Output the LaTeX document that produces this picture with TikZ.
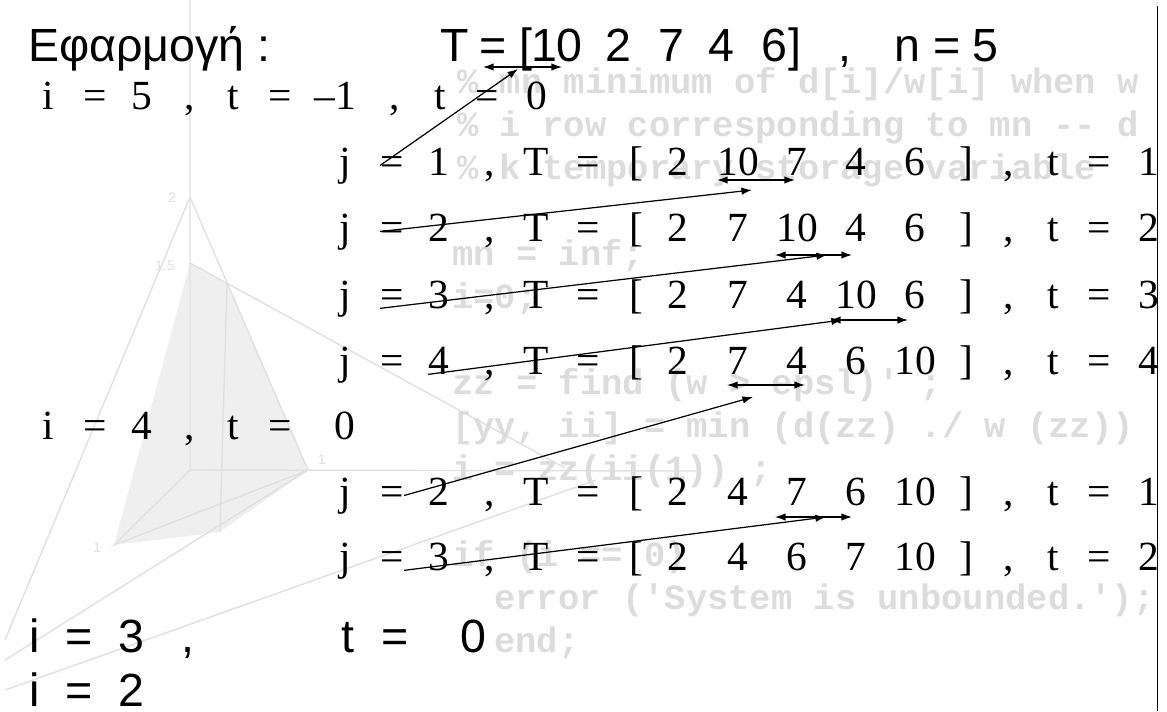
\documentclass[tikz,border=0pt]{standalone}
\usepackage{fontspec}
\setmainfont{Liberation Serif}
\setsansfont{Liberation Sans}
\setmonofont{Liberation Mono}
\usetikzlibrary{arrows.meta}
\definecolor{bgline}{HTML}{E0E0E0}
\definecolor{bgface}{HTML}{EFEFEF}
\definecolor{bgcode}{HTML}{DCDCDC}

\tikzset{
  sertxt/.style={font=\fontsize{23.6}{26}\selectfont, inner sep=0pt, anchor=base},
  santxt/.style={font=\sffamily\fontsize{26.5}{29}\selectfont, inner sep=0pt, anchor=base},
  codetxt/.style={font=\ttfamily\bfseries\fontsize{20.2}{22}\selectfont, text=bgcode, inner sep=0pt, anchor=base west},
  plotlbl/.style={font=\sffamily\fontsize{8}{9}\selectfont, text=bgline, inner sep=0pt},
  swapmark/.style={{Latex[length=6pt,width=4.2pt]}-{Latex[length=6pt,width=4.2pt]}, line width=0.7pt},
  jump/.style={-{Latex[length=6pt,width=4.2pt]}, line width=0.7pt},
}

% one line j = .. , T = [ . . . . . ] , t = ..
\newcommand{\jrow}[9]{%
  \foreach \x/\s/\k in {345/j/j,392/=/eq,439/#3/jv,490/{,}/cm,536/T/T,588/=/eqT,636/[/lb,
      678/#4/a,738/#5/b,797/#6/c,856/#7/d,915/#8/e,966/]/rb,1009/{,}/cmt,1053/t/t,1099/=/eqt,1149/#9/tv}
    \node[sertxt] (#1-\k) at (\x,#2) {\s};}

\begin{document}
\begin{tikzpicture}[x=0.02cm,y=-0.02cm]
  \useasboundingbox (0,0) rectangle (1167,711);

  % faded plot in the background
  \fill[bgface] (190,263) -- (114,545) -- (220,532) -- (227,284) -- cycle;
  \fill[bgface] (227,284) -- (308,470) -- (220,532) -- cycle;
  \begin{scope}[bgline, line width=0.8pt]
    \draw (190,0) -- (190,470) -- (700,471);
    \draw (190,197) -- (5,640);
    \draw (190,197) -- (308,470);
    \draw (190,263) -- (565,468);
    \draw (190,470) -- (114,545) -- (308,470);
    \draw (227,284) -- (220,532);
    \draw (5,690) -- (596,480);
    \draw (5,660) -- (308,470);
  \end{scope}
  \node[plotlbl] (lz2)  at (172,198) {2};
  \node[plotlbl] (lz15) at (165,266) {1.5};
  \node[plotlbl] (lx1)  at (322,460) {1};
  \node[plotlbl] (ly1)  at (97,548)  {1};

  % faded code in the background
  \begin{scope}
    \clip (0,0) rectangle (1157,711);
    \node[codetxt] (cd1)  at (457,93)  {\% mn  minimum of d[i]/w[i] when w};
    \node[codetxt] (cd2)  at (457,136) {\% i  row corresponding to mn -- d};
    \node[codetxt] (cd3)  at (457,179) {\% k temporary storage variable};
    \node[codetxt] (cd4)  at (452,265) {mn = inf;};
    \node[codetxt] (cd5)  at (452,308) {i=0;};
    \node[codetxt] (cd6)  at (452,394) {zz = find (w > epsl)' ;};
    \node[codetxt] (cd7)  at (452,437) {[yy, ii] = min (d(zz) ./ w (zz))};
    \node[codetxt] (cd8)  at (452,480) {i = zz(ii(1)) ;};
    \node[codetxt] (cd9)  at (452,566) {if (i == 0)};
    \node[codetxt] (cd10) at (494,609) {error ('System is unbounded.');};
    \node[codetxt] (cd11) at (494,652) {end;};
  \end{scope}

  % heading
  \node[santxt, anchor=base west] (title) at (28,61) {Εφαρμογή :};
  \foreach \x/\s/\k in {455/T/T,493/=/eq,526/[/lb,557/10/a,618/2/b,671/7/c,721/4/d,
      774/6/e,795/]/rb,845/{,}/cm,907/n/n,947/=/eqn,985/5/nv}
    \node[santxt] (h-\k) at (\x,61) {\s};

  % i = 5
  \foreach \x/\s/\k in {48/i/i,95/=/eq,142/5/v,190/{,}/c1,233/t/t1,280/=/eq1,335/–1/tv1,
      395/{,}/c2,440/t/t2,487/=/eq2,537/0/tv2}
    \node[sertxt] (r5-\k) at (\x,109) {\s};

  \jrow{ja}{175}{1}{2}{10}{7}{4}{6}{1}
  \jrow{jb}{241}{2}{2}{7}{10}{4}{6}{2}
  \jrow{jc}{308}{3}{2}{7}{4}{10}{6}{3}
  \jrow{jd}{374}{4}{2}{7}{4}{6}{10}{4}

  % i = 4
  \foreach \x/\s/\k in {48/i/i,95/=/eq,142/4/v,190/{,}/c1,233/t/t1,280/=/eq1,345/0/tv1}
    \node[sertxt] (r4-\k) at (\x,439) {\s};

  \jrow{je}{505}{2}{2}{4}{7}{6}{10}{1}
  \jrow{jf}{570}{3}{2}{4}{6}{7}{10}{2}

  % i = 3 and i = 2
  \foreach \x/\s/\k in {35/i/i,79/=/eq,131/3/v,188/{,}/c1,348/t/t1,395/=/eq1,473/0/tv1}
    \node[santxt] (r3-\k) at (\x,652) {\s};
  \foreach \x/\s/\k in {35/i/i,79/=/eq,131/2/v}
    \node[santxt] (r2-\k) at (\x,706) {\s};

  % swap marks and landing points
  \coordinate (s0l) at (483,67);  \coordinate (s0r) at (562,67);
  \coordinate (s1l) at (717,180); \coordinate (s1r) at (795,180);
  \coordinate (s2l) at (775,255); \coordinate (s2r) at (852,255);
  \coordinate (s3l) at (830,320); \coordinate (s3r) at (908,320);
  \coordinate (s4l) at (727,385); \coordinate (s4r) at (805,385);
  \coordinate (s5l) at (775,517); \coordinate (s5r) at (852,517);
  \coordinate (p0) at (518,69);
  \coordinate (p1) at (752,190);
  \coordinate (p2) at (827,255);
  \coordinate (p3) at (842,320);
  \coordinate (p4) at (753,397);
  \coordinate (p5) at (826,517);

  \foreach \i in {0,...,5}
    \draw[swapmark] (s\i l) -- (s\i r);

  \draw[jump] (ja-eq.west) -- (p0);
  \draw[jump] (jb-eq.west) -- (p1);
  \draw[jump] (jc-eq.south west) -- (p2);
  \draw[jump] (jd-jv.south west) -- (p3);
  \draw[jump] (je-eq.east) -- (p4);
  \draw[jump] (jf-eq.south east) -- (p5);

  % frame on the right
  \draw[line width=1.1pt] (1157.5,6) -- (1157.5,711);
\end{tikzpicture}
\end{document}
